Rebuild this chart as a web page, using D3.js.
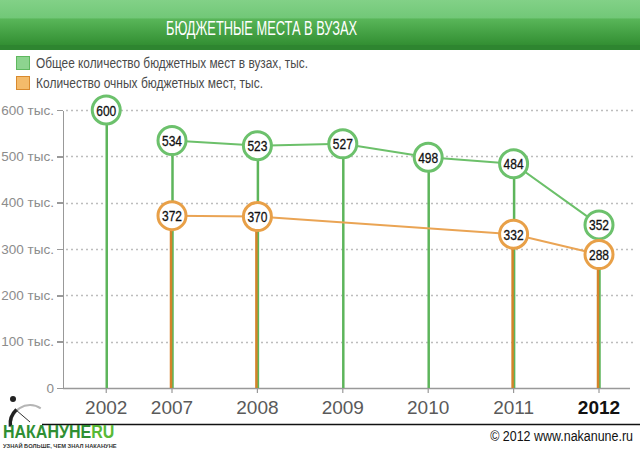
<!DOCTYPE html>
<html lang="ru">
<head>
<meta charset="UTF-8">
<title>Бюджетные места в вузах</title>
<script src="https://cdn.jsdelivr.net/npm/d3@7"></script>
<style>
    body { margin: 0; background: #fff; }
    svg { display: block; }
    .narrow { font-family: "Liberation Sans", Arial, sans-serif; }
    .yaxis path, .yaxis line { stroke: #999; stroke-width: 1.5; shape-rendering: crispEdges; }
    .yaxis text { font-family: "Liberation Sans", Arial, sans-serif; font-size: 13.5px; fill: #8c8c8c; }
</style>
</head>
<body>
<div id="chart"></div>
<script>
    // данные
    const years = ["2002", "2007", "2008", "2009", "2010", "2011", "2012"];
    const totalPlaces = [600, 534, 523, 527, 498, 484, 352];
    const fullTimePlaces = [null, 372, 370, null, null, 332, 288];
    const yTicks = [0, 100, 200, 300, 400, 500, 600];
    const legendLabels = ["Общее количество бюджетных мест в вузах, тыс.", "Количество очных бюджетных мест, тыс."];

    const W = 640, H = 450;
    const svg = d3.select("#chart").append("svg").attr("width", W).attr("height", H);
    const defs = svg.append("defs");

    // узкий шрифт: сжимаем текст до ширины как в оригинале
    const squeeze = (sel, len) => sel.attr("textLength", len).attr("lengthAdjust", "spacingAndGlyphs");

    // шапка
    const grad = defs.append("linearGradient").attr("id", "hdr").attr("x1", 0).attr("y1", 0).attr("x2", 0).attr("y2", 1);
    grad.append("stop").attr("offset", "0%").attr("stop-color", "#82d187");
    grad.append("stop").attr("offset", "38%").attr("stop-color", "#72c878");
    grad.append("stop").attr("offset", "42%").attr("stop-color", "#58b558");
    grad.append("stop").attr("offset", "100%").attr("stop-color", "#318d31");
    svg.append("rect").attr("width", W).attr("height", 46).attr("fill", "url(#hdr)");
    svg.append("rect").attr("y", 45).attr("width", W).attr("height", 5).attr("fill", "#2e8530");
    svg.append("text").attr("class", "narrow")
        .attr("x", 166).attr("y", 35)
        .attr("font-size", 20).attr("fill", "#fff")
        .text("БЮДЖЕТНЫЕ МЕСТА В ВУЗАХ").call(squeeze, 191);

    // легенда
    const legendColors = [["#8dd48f", "#5fb85f"], ["#f4bb6b", "#d98a2e"]];
    const legendWidths = [272, 227];
    legendLabels.forEach((t, i) => {
        const g = svg.append("g").attr("transform", `translate(16, ${56 + i * 20})`);
        g.append("rect").attr("x", 0.5).attr("y", 0.5).attr("width", 13).attr("height", 13)
            .attr("fill", legendColors[i][0]).attr("stroke", legendColors[i][1]);
        g.append("text").attr("class", "narrow").attr("x", 20).attr("y", 12)
            .attr("font-size", 14).attr("fill", "#4a4a4a").text(t).call(squeeze, legendWidths[i]);
    });

    // шкалы
    const y = d3.scaleLinear().domain([0, 600]).range([388, 110]);
    const xMain = d3.scalePoint().domain(years.slice(1)).range([172, 599]);
    const firstGap = 0.77; // 2002 стоит ближе, чем шаг
    const x = yr => yr === years[0] ? xMain(years[1]) - xMain.step() * firstGap : xMain(yr);

    // сетка
    svg.append("g").selectAll("line").data(yTicks.filter(d => d > 0)).join("line")
        .attr("x1", 66).attr("x2", 636)
        .attr("y1", d => Math.round(y(d)) + 0.5).attr("y2", d => Math.round(y(d)) + 0.5)
        .attr("stroke", "#bdbdbd").attr("stroke-width", 1.5).attr("stroke-dasharray", "2,3");

    // ось Y
    svg.append("g").attr("class", "yaxis").attr("transform", "translate(63,0)")
        .call(d3.axisLeft(y).tickValues(yTicks).tickSize(6).tickSizeOuter(0).tickPadding(3)
            .tickFormat(d => d ? d + " тыс." : "0"));

    // ось X
    svg.append("line").attr("x1", 63).attr("x2", 630).attr("y1", 388.5).attr("y2", 388.5)
        .attr("stroke", "#999").attr("stroke-width", 1.5);
    svg.append("g").selectAll("line").data(years).join("line")
        .attr("x1", d => x(d)).attr("x2", d => x(d)).attr("y1", 388).attr("y2", 393)
        .attr("stroke", "#999").attr("stroke-width", 1.2);
    svg.append("g").selectAll("text").data(years).join("text")
        .attr("x", d => x(d)).attr("y", 414).attr("text-anchor", "middle")
        .attr("font-family", "'Liberation Sans', Arial, sans-serif").attr("font-size", 19)
        .attr("font-weight", (d, i) => i === years.length - 1 ? "bold" : "normal")
        .attr("fill", (d, i) => i === years.length - 1 ? "#111" : "#5a5a5a")
        .text(d => d);

    const green = years.map((yr, i) => ({ yr, v: totalPlaces[i] }));
    const orange = years.map((yr, i) => ({ yr, v: fullTimePlaces[i] })).filter(d => d.v != null);

    // стойки
    svg.append("g").selectAll("line").data(green).join("line")
        .attr("x1", d => x(d.yr) + 0.5).attr("x2", d => x(d.yr) + 0.5)
        .attr("y1", d => y(d.v)).attr("y2", 388)
        .attr("stroke", "#5db55b").attr("stroke-width", 2.5);
    svg.append("g").selectAll("line").data(orange).join("line")
        .attr("x1", d => x(d.yr) - 1).attr("x2", d => x(d.yr) - 1)
        .attr("y1", d => y(d.v)).attr("y2", 388)
        .attr("stroke", "#d4832a").attr("stroke-width", 2.5);

    // линии
    const line = d3.line().x(d => x(d.yr)).y(d => y(d.v));
    svg.append("path").datum(green.slice(1)).attr("d", line)
        .attr("fill", "none").attr("stroke", "#6cc06a").attr("stroke-width", 2);
    svg.append("path").datum(orange).attr("d", line)
        .attr("fill", "none").attr("stroke", "#eaa454").attr("stroke-width", 2);

    // кружки с подписями
    function bubbles(data, stroke) {
        const g = svg.append("g").selectAll("g").data(data).join("g")
            .attr("transform", d => `translate(${x(d.yr)},${y(d.v)})`);
        g.append("circle").attr("r", 14).attr("fill", "#fff")
            .attr("stroke", stroke).attr("stroke-width", 3);
        g.append("text").attr("class", "narrow").attr("y", 5.5).attr("text-anchor", "middle")
            .attr("font-size", 15).attr("fill", "#111").attr("stroke", "#111").attr("stroke-width", 0.3)
            .text(d => d.v).call(squeeze, 20);
    }
    bubbles(green, "#6cc16c");
    bubbles(orange, "#e8a048");

    // подвал
    svg.append("line").attr("x1", 42).attr("x2", W).attr("y1", 424.5).attr("y2", 424.5)
        .attr("stroke", "#111").attr("stroke-width", 1.5);
    const logo = svg.append("g");
    const dial = logo.append("g").attr("transform", "translate(30,424)");
    dial.append("path").attr("d", d3.arc()({ innerRadius: 18, outerRadius: 20, startAngle: -1.75, endAngle: 0.6 }))
        .attr("fill", "#b5b5b5");
    dial.append("path").attr("d", d3.arc()({ innerRadius: 18, outerRadius: 21.5, startAngle: -1.7, endAngle: -0.75 }))
        .attr("fill", "#222");
    logo.append("circle").attr("cx", 13).attr("cy", 399).attr("r", 3).attr("fill", "#222");
    logo.append("line").attr("x1", 16).attr("y1", 410).attr("x2", 30).attr("y2", 422)
        .attr("stroke", "#333").attr("stroke-width", 1);
    // логотип сжат по горизонтали
    const logoText = logo.append("text").attr("class", "narrow")
        .attr("transform", "translate(3,438) scale(0.89,1)")
        .attr("font-size", 18).attr("font-weight", "bold").attr("fill", "#2f8f33");
    logoText.append("tspan").text("НАКАНУНЕ");
    logoText.append("tspan").attr("fill", "#58b936").text("RU");
    logo.append("text").attr("class", "narrow")
        .attr("transform", "translate(3,447.5) scale(1.04,1)")
        .attr("font-size", 5.5).attr("font-weight", "bold").attr("fill", "#333")
        .text("УЗНАЙ БОЛЬШЕ, ЧЕМ ЗНАЛ НАКАНУНЕ");
    svg.append("text").attr("class", "narrow")
        .attr("transform", "translate(633,441) scale(0.89,1)").attr("text-anchor", "end")
        .attr("font-size", 14).attr("fill", "#111").text("© 2012 www.nakanune.ru");
</script>
</body>
</html>
